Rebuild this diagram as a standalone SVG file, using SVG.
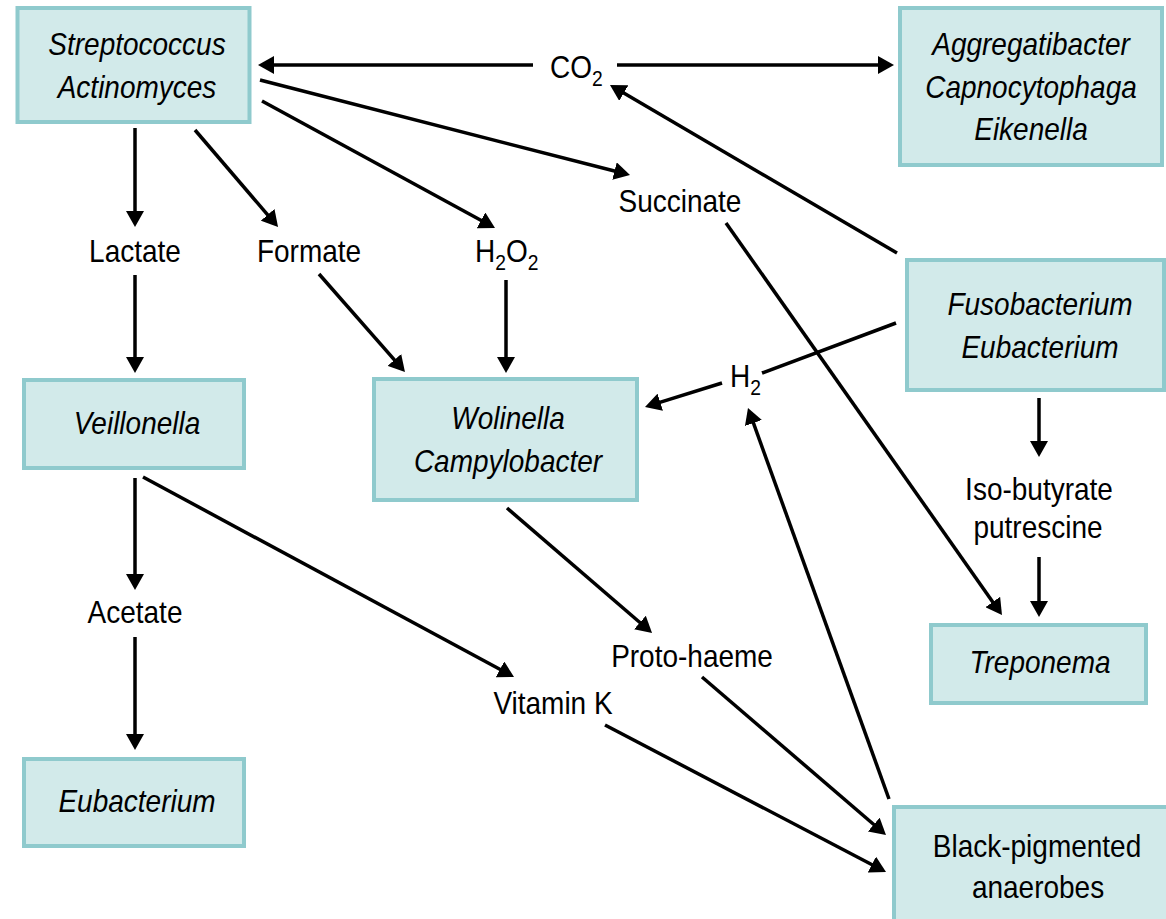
<svg xmlns="http://www.w3.org/2000/svg" width="1166" height="919" viewBox="0 0 1166 919">
<style>
.box{fill:#d2eaea;stroke:#8fcacd;stroke-width:4}
.t{font-family:"Liberation Sans",Arial,sans-serif;font-size:32px;fill:#000;text-anchor:middle}
.s{text-anchor:start}
.i{font-style:italic}
.sub{font-size:22px}
.c line{stroke:#000;stroke-width:3.5;fill:none}
.a{marker-end:url(#ah)}
</style>
<defs>
<marker id="ah" markerUnits="userSpaceOnUse" markerWidth="16" markerHeight="18" refX="3" refY="9" orient="auto" viewBox="0 0 16 18">
<path d="M0,0 L16,9 L0,18 z" fill="#000"/>
</marker>
</defs>
<rect width="1166" height="919" fill="#fff"/>
<g id="strep">
<rect class="box" x="17.5" y="8" width="232" height="114"/>
<text class="t i" transform="translate(137,55) scale(0.875,1)">Streptococcus</text>
<text class="t i" transform="translate(137,98) scale(0.875,1)">Actinomyces</text>
</g>
<g id="aggreg">
<rect class="box" x="900" y="8" width="262" height="157"/>
<text class="t i" transform="translate(1031,55) scale(0.875,1)">Aggregatibacter</text>
<text class="t i" transform="translate(1031,98) scale(0.875,1)">Capnocytophaga</text>
<text class="t i" transform="translate(1031,140) scale(0.875,1)">Eikenella</text>
</g>
<g id="fuso">
<rect class="box" x="907" y="260" width="257" height="130"/>
<text class="t i" transform="translate(1040,315) scale(0.875,1)">Fusobacterium</text>
<text class="t i" transform="translate(1040,358) scale(0.875,1)">Eubacterium</text>
</g>
<g id="veill">
<rect class="box" x="24" y="380" width="220" height="88"/>
<text class="t i" transform="translate(137,434) scale(0.875,1)">Veillonella</text>
</g>
<g id="wolin">
<rect class="box" x="374" y="379" width="263" height="121"/>
<text class="t i" transform="translate(508,429) scale(0.875,1)">Wolinella</text>
<text class="t i" transform="translate(508,472) scale(0.875,1)">Campylobacter</text>
</g>
<g id="trep">
<rect class="box" x="931" y="625" width="215" height="78"/>
<text class="t i" transform="translate(1040,673) scale(0.875,1)">Treponema</text>
</g>
<g id="eub">
<rect class="box" x="24" y="759" width="220" height="87"/>
<text class="t i" transform="translate(137,812) scale(0.875,1)">Eubacterium</text>
</g>
<g id="black">
<rect class="box" x="894" y="807" width="290" height="130"/>
<text class="t" transform="translate(1037,857) scale(0.875,1)">Black-pigmented</text>
<text class="t" transform="translate(1038,898) scale(0.875,1)">anaerobes</text>
</g>
<g id="co2"><text class="t s" transform="translate(550,78) scale(0.875,1)">CO<tspan class="sub" dy="8">2</tspan></text></g>
<g id="lactate"><text class="t" transform="translate(135,262) scale(0.875,1)">Lactate</text></g>
<g id="formate"><text class="t" transform="translate(309,262) scale(0.875,1)">Formate</text></g>
<g id="h2o2"><text class="t s" transform="translate(475,262) scale(0.875,1)">H<tspan class="sub" dy="8">2</tspan><tspan dy="-8">O</tspan><tspan class="sub" dy="8">2</tspan></text></g>
<g id="succinate"><text class="t" transform="translate(680,212) scale(0.875,1)">Succinate</text></g>
<g id="h2"><text class="t s" transform="translate(730,387) scale(0.875,1)">H<tspan class="sub" dy="8">2</tspan></text></g>
<g id="isobut">
<text class="t" transform="translate(1039,500) scale(0.875,1)">Iso-butyrate</text>
<text class="t" transform="translate(1038,538) scale(0.875,1)">putrescine</text>
</g>
<g id="acetate"><text class="t" transform="translate(135,623) scale(0.875,1)">Acetate</text></g>
<g id="proto"><text class="t" transform="translate(692,667) scale(0.875,1)">Proto-haeme</text></g>
<g id="vitk"><text class="t" transform="translate(553,714) scale(0.875,1)">Vitamin K</text></g>
<g id="connectors" class="c">
<line class="a" x1="533" y1="65" x2="271" y2="65"/>
<line class="a" x1="617" y1="65" x2="881" y2="65"/>
<line class="a" x1="897" y1="253" x2="621.2" y2="91.6"/>
<line class="a" x1="260" y1="80" x2="617.4" y2="171.8"/>
<line class="a" x1="262" y1="101" x2="483.6" y2="221.8"/>
<line class="a" x1="195" y1="130" x2="269.6" y2="217.1"/>
<line class="a" x1="135" y1="128" x2="135" y2="214"/>
<line class="a" x1="135" y1="275" x2="135" y2="360"/>
<line class="a" x1="319" y1="274" x2="396.4" y2="362.2"/>
<line class="a" x1="506" y1="280" x2="506" y2="360"/>
<line class="a" x1="726" y1="223" x2="994.5" y2="604.4"/>
<line x1="896" y1="323" x2="762" y2="373"/>
<line class="a" x1="722" y1="383" x2="657.4" y2="403.1"/>
<line class="a" x1="889" y1="799" x2="752.4" y2="420.2"/>
<line class="a" x1="1039" y1="398" x2="1039" y2="444"/>
<line class="a" x1="1039" y1="557" x2="1039" y2="604"/>
<line class="a" x1="135" y1="478" x2="135" y2="577"/>
<line class="a" x1="135" y1="637" x2="135" y2="737"/>
<line class="a" x1="143" y1="477" x2="502.6" y2="670.8"/>
<line class="a" x1="507" y1="508" x2="642.2" y2="624.5"/>
<line class="a" x1="702" y1="677" x2="876.1" y2="826.5"/>
<line class="a" x1="605" y1="725" x2="874.5" y2="866"/>
</g>
</svg>
